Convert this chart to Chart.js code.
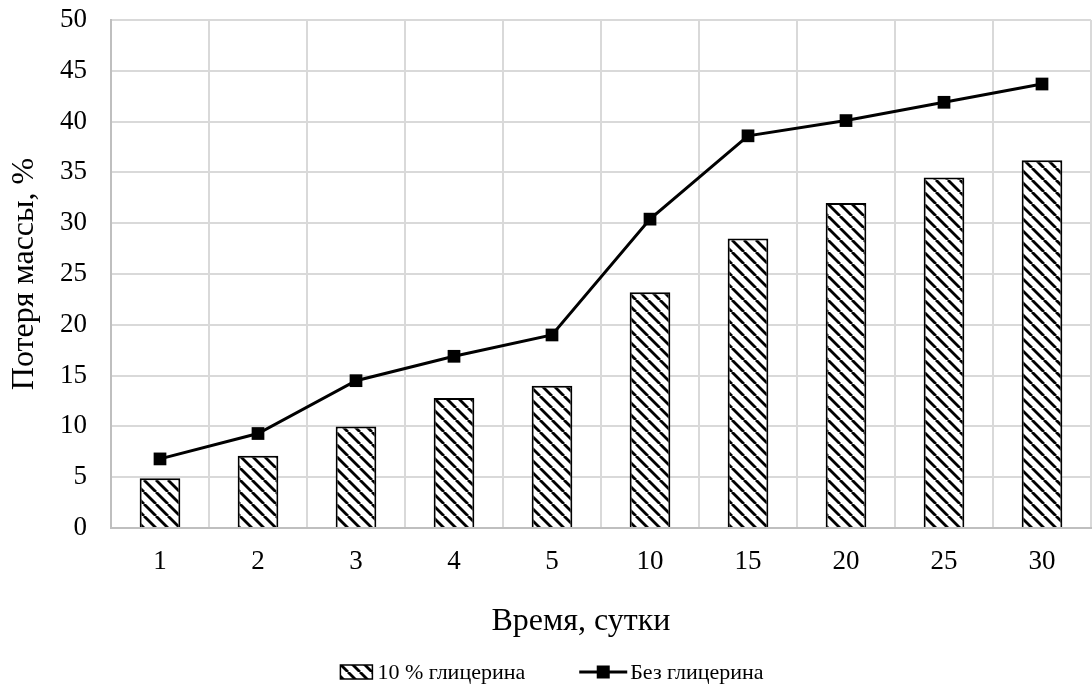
<!DOCTYPE html>
<html>
<head>
<meta charset="utf-8">
<script src="https://cdn.jsdelivr.net/npm/chart.js@4"></script>
<style>
  html, body { margin: 0; padding: 0; background: #fff; overflow: hidden; }
  #wrap { width: 1100px; height: 698px; }
</style>
</head>
<body>
<div id="wrap"><canvas id="massLossChart" width="1100" height="698"></canvas></div>
<script>
// days of storage
const days = ['1', '2', '3', '4', '5', '10', '15', '20', '25', '30'];
// mass loss, %
const withGlycerin = [4.9, 7.1, 10.0, 12.8, 14.0, 23.2, 28.5, 32.0, 34.5, 36.2];
const noGlycerin = [6.8, 9.3, 14.5, 16.9, 19.0, 30.4, 38.6, 40.1, 41.9, 43.7];
const seriesNames = ['10 % глицерина', 'Без глицерина'];
const yTicks = [0, 5, 10, 15, 20, 25, 30, 35, 40, 45, 50];
const xTitle = 'Время, сутки';

const serif = "'Liberation Serif', 'Times New Roman', serif";

// diagonal hatch like the Excel "wide downward diagonal" fill
function makeHatch() {
  const s = 11.5;
  const c = document.createElement('canvas');
  c.width = 12; c.height = 12;
  const g = c.getContext('2d');
  const n = 12;
  g.fillStyle = '#fff';
  g.fillRect(0, 0, n, n);
  g.strokeStyle = '#000';
  g.lineWidth = 2.8;
  for (let k = -1; k <= 1; k++) {
    g.beginPath();
    g.moveTo(k * n, 0);
    g.lineTo(k * n + n, n);
    g.stroke();
  }
  return g.createPattern(c, 'repeat');
}

const hatch = makeHatch();

// x title (Excel centres it a bit left of the plot centre) and the legend
const bottomTexts = {
  id: 'bottomTexts',
  afterDraw(chart) {
    const ctx = chart.ctx;
    ctx.save();
    ctx.fillStyle = '#000';
    ctx.textBaseline = 'middle';
    ctx.textAlign = 'center';
    ctx.font = '32px ' + serif;
    ctx.fillText(xTitle, 581, 622);

    const y = 672;
    ctx.textAlign = 'left';
    ctx.font = '22px ' + serif;
    const w1 = ctx.measureText(seriesNames[0]).width;
    const w2 = ctx.measureText(seriesNames[1]).width;
    const gap = 54;
    const total = 32 + 5 + w1 + gap + 48 + 3 + w2;
    let x = 552 - total / 2;

    ctx.fillStyle = hatch;
    ctx.fillRect(x, y - 7, 32, 14);
    ctx.strokeStyle = '#000';
    ctx.lineWidth = 1.5;
    ctx.strokeRect(x, y - 7, 32, 14);
    x += 37;
    ctx.fillStyle = '#000';
    ctx.fillText(seriesNames[0], x, y + 1);
    x += w1 + gap;

    ctx.lineWidth = 3;
    ctx.beginPath();
    ctx.moveTo(x, y);
    ctx.lineTo(x + 48, y);
    ctx.stroke();
    ctx.fillRect(x + 24 - 6.5, y - 6.5, 13, 13);
    x += 51;
    ctx.fillText(seriesNames[1], x, y + 1);
    ctx.restore();
  }
};

const ctx = document.getElementById('massLossChart').getContext('2d');
new Chart(ctx, {
  type: 'bar',
  data: {
    labels: days,
    datasets: [
      {
        type: 'line',
        label: seriesNames[1],
        data: noGlycerin,
        borderColor: '#000',
        backgroundColor: '#000',
        borderWidth: 3,
        pointStyle: 'rect',
        pointRadius: 9,
        pointBorderWidth: 0,
        pointBackgroundColor: '#000',
        tension: 0,
        order: 0
      },
      {
        label: seriesNames[0],
        data: withGlycerin,
        backgroundColor: hatch,
        borderColor: '#000',
        borderWidth: 2,
        barPercentage: 0.415,
        categoryPercentage: 1,
        order: 1
      }
    ]
  },
  options: {
    responsive: false,
    devicePixelRatio: 1,
    animation: false,
    layout: { padding: { top: 20, right: 1, bottom: 50, left: 0 } },
    plugins: {
      legend: { display: false },
      tooltip: { enabled: false }
    },
    scales: {
      x: {
        grid: { color: '#d9d9d9', lineWidth: 2, drawTicks: false },
        border: { color: '#bfbfbf', width: 2 },
        ticks: { color: '#000', padding: 18, font: { family: serif, size: 27 } },
        afterFit(scale) { scale.height = 120; }
      },
      y: {
        min: 0,
        max: 50,
        afterBuildTicks(scale) { scale.ticks = yTicks.map(v => ({ value: v })); },
        grid: { color: '#d9d9d9', lineWidth: 2, drawTicks: false },
        border: { color: '#bfbfbf', width: 2 },
        ticks: { color: '#000', padding: 24, font: { family: serif, size: 27 } },
        title: {
          display: true,
          text: 'Потеря массы, %',
          color: '#000',
          font: { family: serif, size: 32 },
          padding: { top: 5, bottom: 0 }
        },
        afterFit(scale) {
          scale.width = 111;
          scale.paddingTop = 0;
          scale.paddingBottom = 0;
        }
      }
    }
  },
  plugins: [bottomTexts]
});
</script>
</body>
</html>
